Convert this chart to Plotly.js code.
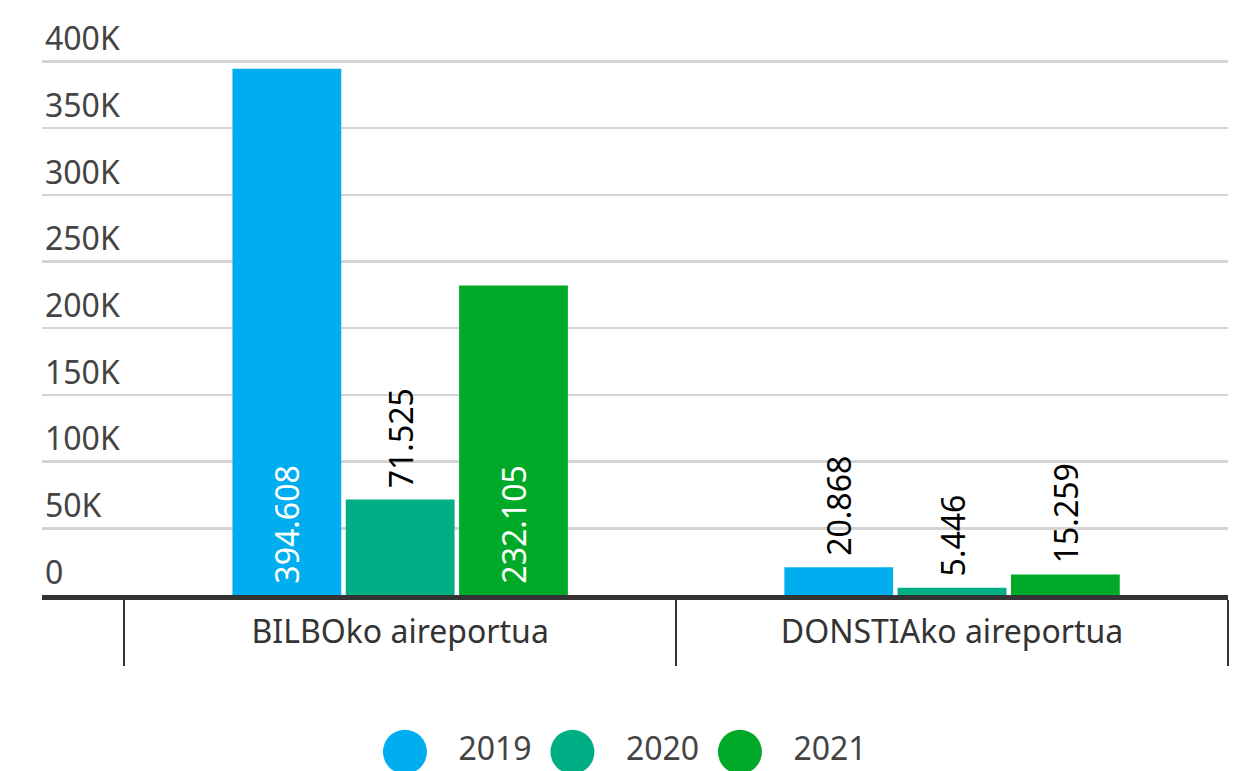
<!DOCTYPE html>
<html>
<head>
<meta charset="utf-8">
<script src="https://cdn.plot.ly/plotly-3.0.1.min.js"></script>
<style>html,body{margin:0;padding:0;background:#fff}#chart{width:1238px;height:771px}</style>
</head>
<body>
<div id="chart"></div>
<script>
const categories = ["BILBOko aireportua", "DONSTIAko aireportua"];
const years = ["2019", "2020", "2021"];
const values2019 = [394608, 20868];
const values2020 = [71525, 5446];
const values2021 = [232105, 15259];
const tickValues = [0, 50000, 100000, 150000, 200000, 250000, 300000, 350000, 400000];
const tickLabels = ["0", "50K", "100K", "150K", "200K", "250K", "300K", "350K", "400K"];
const colors = ["#00AEEF", "#00AE85", "#00AA28"];
const labelPositions = [["inside", "outside"], ["outside", "outside"], ["inside", "outside"]];

const FONT = "Noto Sans, sans-serif";
const FS = 32;
const series = [values2019, values2020, values2021];

const traces = series.map((vals, i) => ({
  type: "bar",
  name: years[i],
  x: categories,
  y: vals,
  marker: {color: colors[i]},
  texttemplate: "\u00a0%{y:,.0f}",
  textposition: labelPositions[i],
  textangle: -90,
  insidetextanchor: "start",
  constraintext: "none",
  insidetextfont: {family: FONT, size: FS, color: "#ffffff"},
  outsidetextfont: {family: FONT, size: FS, color: "#000000"},
  cliponaxis: false,
  showlegend: false,
  hoverinfo: "skip",
  xaxis: "x",
  yaxis: "y"
}));

traces.push({
  type: "scatter",
  mode: "markers+text",
  x: [0, 1, 2],
  y: [0, 0, 0],
  text: years.map(y => "\u00a0\u00a0\u00a0" + y),
  textposition: "middle right",
  textfont: {family: FONT, size: FS, color: "#444444"},
  marker: {size: 44, color: colors},
  cliponaxis: false,
  showlegend: false,
  hoverinfo: "skip",
  xaxis: "x2",
  yaxis: "y2"
});

const layout = {
  width: 1238,
  height: 771,
  margin: {l: 42, r: 10, t: 5, b: 0},
  paper_bgcolor: "#ffffff",
  plot_bgcolor: "#ffffff",
  separators: ",.",
  barmode: "group",
  bargap: 0.384,
  bargroupgap: 0.04,
  hovermode: false,
  showlegend: false,
  font: {family: FONT, size: FS, color: "#444444"},
  xaxis: {
    type: "category",
    categoryorder: "array",
    categoryarray: categories,
    range: [-0.649, 1.5],
    domain: [0, 1],
    anchor: "y",
    tickson: "boundaries",
    ticks: "outside",
    ticklen: 66,
    tickwidth: 2.5,
    tickcolor: "#333333",
    showline: true,
    linewidth: 5,
    linecolor: "#333333",
    showgrid: false,
    zeroline: false,
    ticklabelstandoff: 5,
    tickfont: {family: FONT, size: FS, color: "#333333"},
    fixedrange: true
  },
  yaxis: {
    domain: [0.2298, 0.9959],
    range: [0, 440000],
    anchor: "x",
    tickmode: "array",
    tickvals: tickValues,
    ticktext: tickLabels,
    ticklabelposition: "inside top",
    ticks: "",
    showgrid: true,
    gridcolor: "#d4d4d4",
    gridwidth: 2.5,
    zeroline: false,
    showline: false,
    tickfont: {family: FONT, size: FS, color: "#444444"},
    fixedrange: true
  },
  xaxis2: {
    domain: [0, 1],
    anchor: "y2",
    range: [-2.167, 4.914],
    visible: false,
    fixedrange: true
  },
  yaxis2: {
    domain: [0, 0.05],
    anchor: "x2",
    range: [-1, 1],
    visible: false,
    fixedrange: true
  }
};

Plotly.newPlot("chart", traces, layout, {displayModeBar: false, staticPlot: true});
</script>
</body>
</html>
